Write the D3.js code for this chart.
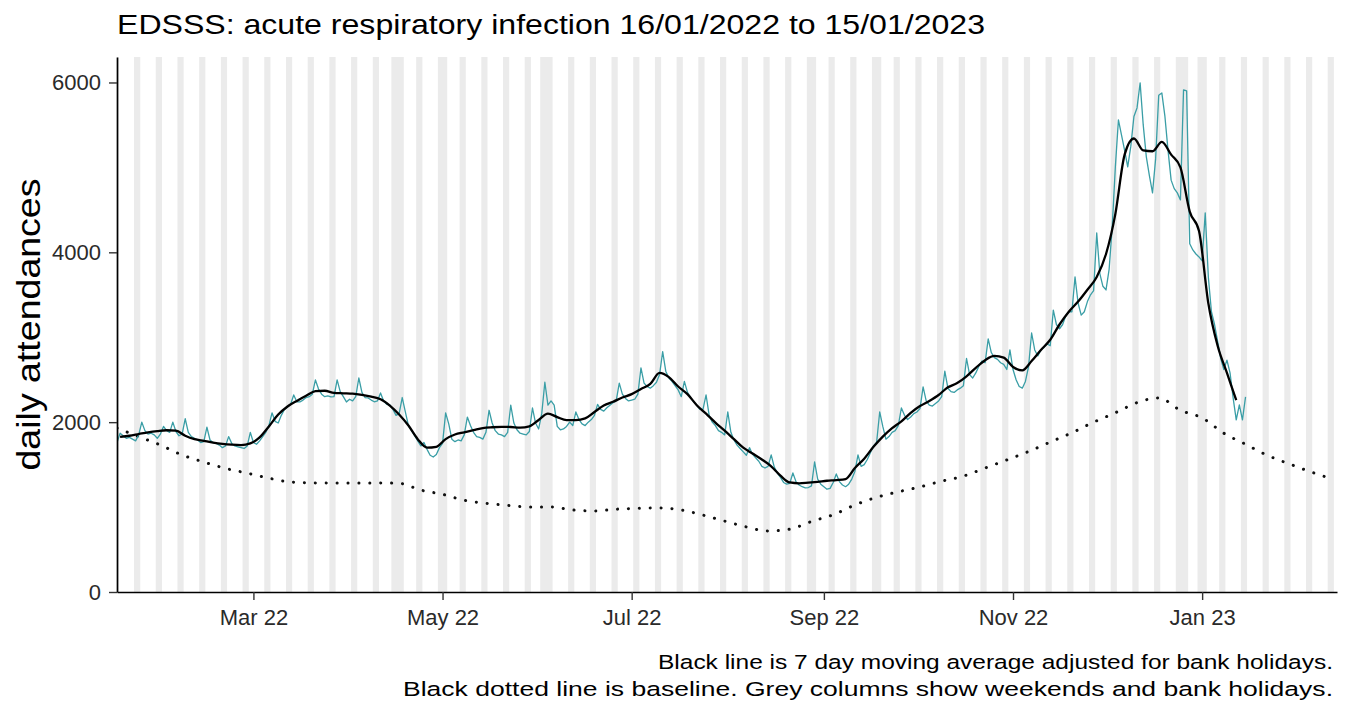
<!DOCTYPE html>
<html><head><meta charset="utf-8">
<script src="https://cdn.jsdelivr.net/npm/d3@7"></script>
<style>
body{margin:0;background:#fff}
svg{display:block}
text{font-family:"Liberation Sans",Arial,sans-serif}
</style>
</head><body>
<svg id="c" width="1348" height="704"></svg>
<script>
// ---------------- data ----------------
const titleText = "EDSSS: acute respiratory infection 16/01/2022 to 15/01/2023";
const yAxisTitle = "daily attendances";
const captionLines = [
  "Black line is 7 day moving average adjusted for bank holidays.",
  "Black dotted line is baseline. Grey columns show weekends and bank holidays."
];
const seriesStart = "2022-01-16";        // first daily value
const dailyAttendances = [
  1760,1870,1840,1810,1820,1800,1780,
  1850,2000,1900,1860,1870,1850,1810,
  1860,1950,1900,1880,2000,1890,1840,
  1860,2040,1880,1830,1810,1790,1760,
  1770,1940,1790,1760,1750,1730,1700,
  1720,1830,1750,1720,1710,1700,1690,
  1720,1880,1760,1740,1780,1830,1880,
  1960,2110,2010,1990,2080,2150,2180,
  2210,2320,2240,2238,2260,2290,2300,
  2330,2497,2390,2330,2300,2310,2297,
  2300,2497,2360,2300,2238,2270,2250,
  2300,2520,2350,2290,2285,2260,2240,
  2250,2344,2250,2210,2203,2150,2080,
  2100,2290,2120,1960,1900,1840,1780,
  1720,1760,1680,1610,1590,1620,1700,
  1750,2110,1980,1800,1770,1790,1780,
  1850,2060,1960,1880,1830,1820,1800,
  1880,2140,1990,1900,1860,1850,1830,
  1880,2200,1990,1910,1870,1860,1850,
  1890,2167,1990,1920,2100,2470,2200,
  2250,2200,1950,1910,1920,1950,2000,
  1960,2120,2030,1980,1960,2000,2030,
  2080,2210,2150,2130,2170,2200,2230,
  2250,2460,2330,2280,2250,2260,2270,
  2330,2640,2460,2420,2400,2430,2470,
  2560,2830,2600,2520,2480,2430,2380,
  2300,2480,2350,2290,2240,2200,2150,
  2150,2320,2080,2000,1960,1900,1880,
  1850,2120,1880,1790,1730,1690,1650,
  1610,1700,1620,1580,1540,1480,1460,
  1480,1614,1470,1400,1350,1290,1270,
  1280,1402,1300,1260,1240,1225,1230,
  1250,1531,1330,1270,1240,1210,1220,
  1290,1390,1300,1260,1240,1270,1330,
  1420,1614,1480,1500,1560,1640,1720,
  1760,2120,1950,1800,1830,1880,1900,
  1960,2167,2080,2030,2060,2100,2120,
  2160,2415,2250,2200,2190,2220,2250,
  2300,2600,2400,2360,2350,2380,2400,
  2430,2750,2560,2520,2580,2660,2720,
  2700,2980,2820,2760,2740,2700,2680,
  2620,2850,2620,2500,2420,2400,2480,
  2650,3050,2850,2780,2850,2880,2920,
  2900,3320,3150,3100,3150,3250,3300,
  3300,3710,3400,3260,3300,3420,3500,
  3550,4228,3750,3600,3557,3800,4300,
  5000,5560,5380,5200,5006,5250,5600,
  5700,5995,5500,5124,4900,4700,5100,
  5850,5877,5600,5200,4850,4750,4700,
  4617,5913,5900,4100,4028,3980,3946,
  3900,4464,3710,3300,3150,2950,2750,
  2620,2730,2580,2285,2026,2203,2026,
  2297
];
// 7 day moving average, read every 3rd day starting 17/01/2022
const movingAverageStart = "2022-01-17";
const movingAverageEveryDays = 3;
const movingAverage = [
  1826,1840,1860,1880,1895,1905,1900,1840,1800,1780,
  1760,1745,1735,1730,1750,1820,1950,2090,2185,2250,
  2310,2365,2370,2345,2340,2335,2320,2300,2270,2195,
  2090,1960,1800,1700,1710,1800,1855,1880,1905,1930,
  1940,1945,1943,1935,1950,2026,2100,2060,2025,2025,
  2045,2120,2195,2240,2290,2330,2390,2450,2580,2530,
  2420,2330,2200,2100,1995,1900,1800,1700,1630,1560,
  1480,1370,1290,1280,1288,1298,1310,1318,1330,1460,
  1570,1710,1830,1930,2010,2110,2190,2250,2320,2410,
  2460,2540,2640,2730,2780,2760,2650,2610,2720,2850,
  2970,3150,3300,3420,3560,3710,3980,4450,5150,5340,
  5200,5190,5300,5150,5000,4480,4250,3400,2900,2580,
  2260
];
// baseline, read weekly starting 16/01/2022
const baselineStart = "2022-01-16";
const baselineEveryDays = 7;
const baseline = [
  1930,1830,1730,1614,1530,1455,1400,1340,1296,1285,
  1284,1284,1284,1280,1200,1150,1080,1045,1020,1001,
  1001,966,954,975,985,989,966,905,835,766,
  718,740,830,910,1025,1115,1180,1237,1305,1365,
  1460,1555,1655,1765,1875,2000,2110,2230,2285,2140,
  2050,1870,1740,1610,1510,1415,1330
];
const bankHolidays = ["2022-04-15","2022-04-18","2022-05-02","2022-06-02","2022-06-03",
  "2022-08-29","2022-09-19","2022-12-26","2022-12-27","2023-01-02"];
const yTicks = [0, 2000, 4000, 6000];
const xTicks = ["2022-03-01","2022-05-01","2022-07-01","2022-09-01","2022-11-01","2023-01-01"];
const xDomain = ["2022-01-16T00:00Z", "2023-02-13T12:00Z"];
const yDomain = [0, 6300];

// ---------------- layout ----------------
const L = 117, R = 1337, T = 57, B = 592;
const DAY = 864e5;
const svg = d3.select("#c");
const p = d3.utcParse("%Y-%m-%d");
const fmtKey = d3.utcFormat("%Y-%m-%d");

const x = d3.scaleUtc().domain(xDomain.map(s => new Date(s))).range([L, R]);
const y = d3.scaleLinear().domain(yDomain).range([B, T]);

svg.append("defs").append("clipPath").attr("id","clip")
  .append("rect").attr("x",L).attr("y",T).attr("width",R-L).attr("height",B-T);

// grey columns: weekends and bank holidays, merged into runs
const bh = new Set(bankHolidays);
const t0 = p(seriesStart);
const allDays = d3.utcDay.range(d3.utcDay.offset(t0,-2), d3.utcDay.offset(t0,396));
const greyDays = allDays.filter(d => d.getUTCDay()===0 || d.getUTCDay()===6 || bh.has(fmtKey(d)));
const runs = [];
greyDays.forEach(d => {
  const last = runs[runs.length-1];
  if (last && +d - +last[1] === DAY) last[1] = d; else runs.push([d,d]);
});
svg.append("g").attr("clip-path","url(#clip)")
  .selectAll("rect").data(runs).join("rect")
  .attr("x", r => x(new Date(+r[0]-DAY/2)))
  .attr("width", r => x(new Date(+r[1]+DAY/2)) - x(new Date(+r[0]-DAY/2)))
  .attr("y", T).attr("height", B-T)
  .attr("fill", "#ebebeb");

// series
const dailyPts = dailyAttendances.map((v,i) => [d3.utcDay.offset(t0,i), v]);
const maStart = p(movingAverageStart);
const maPts = movingAverage.map((v,i) => [d3.utcDay.offset(maStart,i*movingAverageEveryDays), v]);
const blStart = p(baselineStart);
const blPts = baseline.map((v,i) => [d3.utcDay.offset(blStart,i*baselineEveryDays), v]);

const lineLin = d3.line().x(d=>x(d[0])).y(d=>y(d[1]));
const lineSmooth = d3.line().x(d=>x(d[0])).y(d=>y(d[1])).curve(d3.curveMonotoneX);

const plot = svg.append("g").attr("clip-path","url(#clip)");
plot.append("path").datum(blPts).attr("d", lineSmooth)
  .attr("fill","none").attr("stroke","#111").attr("stroke-width",3)
  .attr("stroke-linecap","round").attr("stroke-dasharray","0.1 10.8");
plot.append("path").datum(dailyPts).attr("d", lineLin)
  .attr("fill","none").attr("stroke","#3a9ea6").attr("stroke-width",1.3)
  .attr("stroke-linejoin","round");
plot.append("path").datum(maPts).attr("d", lineSmooth)
  .attr("fill","none").attr("stroke","#000").attr("stroke-width",2.3)
  .attr("stroke-linejoin","round");

// axes
const yAxis = d3.axisLeft(y).tickValues(yTicks).tickSize(8).tickSizeOuter(0).tickPadding(8)
  .tickFormat(d3.format("d"));
const gy = svg.append("g").attr("transform",`translate(${L},0)`).call(yAxis);
const xAxis = d3.axisBottom(x).tickValues(xTicks.map(p)).tickSize(8).tickSizeOuter(0).tickPadding(9)
  .tickFormat(d3.utcFormat("%b %y"));
const gx = svg.append("g").attr("transform",`translate(0,${B})`).call(xAxis);
[gx, gy].forEach(g => {
  g.select(".domain").attr("stroke","#000").attr("stroke-width",1.7);
  g.selectAll(".tick line").attr("stroke","#333").attr("stroke-width",1.4);
  g.selectAll(".tick text").attr("fill","#2a2a2a").style("font-size","22px")
    .style("font-family",'"Liberation Sans",Arial,sans-serif');
});

// titles
svg.append("text").attr("x",L).attr("y",34).text(titleText)
  .style("font-size","27.5px").attr("fill","#000")
  .attr("textLength",868).attr("lengthAdjust","spacingAndGlyphs");
svg.append("text").attr("transform",`translate(40,${(T+B)/2}) rotate(-90)`)
  .attr("text-anchor","middle").text(yAxisTitle)
  .style("font-size","34px").attr("fill","#000")
  .attr("textLength",292).attr("lengthAdjust","spacingAndGlyphs");
const capLens = [675, 930];
captionLines.forEach((s,i) => {
  svg.append("text").attr("x",1333).attr("y",669+i*27).attr("text-anchor","end")
    .text(s).style("font-size","20.5px").attr("fill","#000")
    .attr("textLength",capLens[i]).attr("lengthAdjust","spacingAndGlyphs");
});
</script>
</body></html>
